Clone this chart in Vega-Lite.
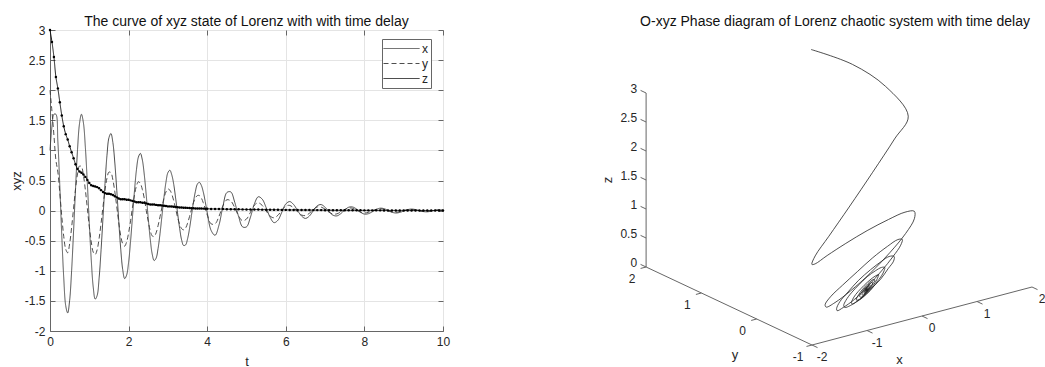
{
"$schema": "https://vega.github.io/schema/vega-lite/v6.json",
"padding": {"left": 9, "top": 14, "right": 0, "bottom": 0},
"background": "white",
"spacing": 146,
"config": {
  "font": "Liberation Sans",
  "view": {"stroke": null},
  "axis": {"labelFont": "Liberation Sans", "labelFontSize": 12, "labelColor": "#262626", "titleFont": "Liberation Sans", "titleFontSize": 13, "titleFontWeight": "normal", "titleColor": "#262626", "domainColor": "#666", "tickColor": "#666", "gridColor": "#e4e4e4"},
  "title": {"font": "Liberation Sans", "fontSize": 14, "fontWeight": "normal", "color": "#111"},
  "legend": {"labelFont": "Liberation Sans"},
  "text": {"font": "Liberation Sans"}
},
"datasets": {
  "lorenz": [
    {"t":0.00,"x":1.00,"y":2.00,"z":3.00},
    {"t":0.05,"x":1.40,"y":1.65,"z":2.80},
    {"t":0.10,"x":1.60,"y":1.25,"z":2.55},
    {"t":0.15,"x":1.60,"y":0.84,"z":2.22},
    {"t":0.20,"x":1.15,"y":0.64,"z":2.03},
    {"t":0.25,"x":0.40,"y":0.29,"z":1.80},
    {"t":0.30,"x":-0.42,"y":-0.10,"z":1.58},
    {"t":0.35,"x":-1.12,"y":-0.43,"z":1.40},
    {"t":0.40,"x":-1.58,"y":-0.64,"z":1.27},
    {"t":0.45,"x":-1.70,"y":-0.70,"z":1.18},
    {"t":0.50,"x":-1.49,"y":-0.55,"z":1.07},
    {"t":0.55,"x":-1.00,"y":-0.28,"z":0.97},
    {"t":0.60,"x":-0.34,"y":0.04,"z":0.87},
    {"t":0.65,"x":0.37,"y":0.36,"z":0.77},
    {"t":0.70,"x":1.01,"y":0.61,"z":0.69},
    {"t":0.75,"x":1.44,"y":0.74,"z":0.65},
    {"t":0.80,"x":1.60,"y":0.73,"z":0.63},
    {"t":0.85,"x":1.46,"y":0.59,"z":0.60},
    {"t":0.90,"x":1.05,"y":0.34,"z":0.56},
    {"t":0.95,"x":0.46,"y":0.04,"z":0.51},
    {"t":1.00,"x":-0.21,"y":-0.27,"z":0.46},
    {"t":1.05,"x":-0.82,"y":-0.52,"z":0.42},
    {"t":1.10,"x":-1.27,"y":-0.69,"z":0.41},
    {"t":1.15,"x":-1.47,"y":-0.73,"z":0.40},
    {"t":1.20,"x":-1.41,"y":-0.65,"z":0.39},
    {"t":1.25,"x":-1.12,"y":-0.46,"z":0.37},
    {"t":1.30,"x":-0.65,"y":-0.21,"z":0.34},
    {"t":1.35,"x":-0.10,"y":0.07,"z":0.31},
    {"t":1.40,"x":0.45,"y":0.34,"z":0.29},
    {"t":1.45,"x":0.92,"y":0.54,"z":0.28},
    {"t":1.50,"x":1.21,"y":0.64,"z":0.28},
    {"t":1.55,"x":1.28,"y":0.63,"z":0.27},
    {"t":1.60,"x":1.13,"y":0.51,"z":0.26},
    {"t":1.65,"x":0.79,"y":0.31,"z":0.24},
    {"t":1.70,"x":0.33,"y":0.06,"z":0.22},
    {"t":1.75,"x":-0.18,"y":-0.20,"z":0.20},
    {"t":1.80,"x":-0.64,"y":-0.42,"z":0.19},
    {"t":1.85,"x":-0.98,"y":-0.55,"z":0.19},
    {"t":1.90,"x":-1.13,"y":-0.59,"z":0.19},
    {"t":1.95,"x":-1.07,"y":-0.52,"z":0.18},
    {"t":2.00,"x":-0.86,"y":-0.37,"z":0.18},
    {"t":2.05,"x":-0.51,"y":-0.17,"z":0.17},
    {"t":2.10,"x":-0.09,"y":0.06,"z":0.16},
    {"t":2.15,"x":0.33,"y":0.26,"z":0.15},
    {"t":2.20,"x":0.68,"y":0.41,"z":0.14},
    {"t":2.25,"x":0.89,"y":0.48,"z":0.14},
    {"t":2.30,"x":0.95,"y":0.45,"z":0.14},
    {"t":2.35,"x":0.84,"y":0.35,"z":0.13},
    {"t":2.40,"x":0.59,"y":0.20,"z":0.13},
    {"t":2.45,"x":0.25,"y":0.00,"z":0.12},
    {"t":2.50,"x":-0.13,"y":-0.18,"z":0.11},
    {"t":2.55,"x":-0.47,"y":-0.33,"z":0.10},
    {"t":2.60,"x":-0.72,"y":-0.42,"z":0.10},
    {"t":2.65,"x":-0.83,"y":-0.43,"z":0.10},
    {"t":2.70,"x":-0.79,"y":-0.37,"z":0.095},
    {"t":2.75,"x":-0.63,"y":-0.25,"z":0.09},
    {"t":2.80,"x":-0.38,"y":-0.10,"z":0.09},
    {"t":2.85,"x":-0.08,"y":0.06,"z":0.085},
    {"t":2.90,"x":0.22,"y":0.21,"z":0.08},
    {"t":2.95,"x":0.47,"y":0.31,"z":0.075},
    {"t":3.00,"x":0.63,"y":0.36,"z":0.07},
    {"t":3.05,"x":0.67,"y":0.34,"z":0.07},
    {"t":3.10,"x":0.59,"y":0.27,"z":0.068},
    {"t":3.15,"x":0.43,"y":0.16,"z":0.065},
    {"t":3.20,"x":0.19,"y":0.02,"z":0.06},
    {"t":3.25,"x":-0.06,"y":-0.12,"z":0.055},
    {"t":3.30,"x":-0.30,"y":-0.23,"z":0.052},
    {"t":3.35,"x":-0.49,"y":-0.30,"z":0.05},
    {"t":3.40,"x":-0.58,"y":-0.32,"z":0.048},
    {"t":3.45,"x":-0.57,"y":-0.29,"z":0.046},
    {"t":3.50,"x":-0.47,"y":-0.21,"z":0.045},
    {"t":3.55,"x":-0.30,"y":-0.10,"z":0.043},
    {"t":3.60,"x":-0.08,"y":0.02,"z":0.04},
    {"t":3.65,"x":0.14,"y":0.13,"z":0.038},
    {"t":3.70,"x":0.32,"y":0.21,"z":0.036},
    {"t":3.75,"x":0.44,"y":0.25,"z":0.035},
    {"t":3.80,"x":0.47,"y":0.25,"z":0.035},
    {"t":3.85,"x":0.42,"y":0.21,"z":0.034},
    {"t":3.90,"x":0.31,"y":0.13,"z":0.033},
    {"t":3.95,"x":0.15,"y":0.03,"z":0.031},
    {"t":4.00,"x":-0.03,"y":-0.07,"z":0.03},
    {"t":4.10,"x":-0.33,"y":-0.22,"z":0.028},
    {"t":4.20,"x":-0.41,"y":-0.22,"z":0.027},
    {"t":4.30,"x":-0.24,"y":-0.095,"z":0.026},
    {"t":4.40,"x":0.07,"y":0.08,"z":0.025},
    {"t":4.50,"x":0.30,"y":0.18,"z":0.024},
    {"t":4.60,"x":0.31,"y":0.16,"z":0.023},
    {"t":4.70,"x":0.14,"y":0.05,"z":0.022},
    {"t":4.80,"x":-0.10,"y":-0.09,"z":0.021},
    {"t":4.90,"x":-0.27,"y":-0.17,"z":0.02},
    {"t":5.00,"x":-0.27,"y":-0.14,"z":0.019},
    {"t":5.10,"x":-0.11,"y":-0.03,"z":0.018},
    {"t":5.20,"x":0.11,"y":0.09,"z":0.017},
    {"t":5.30,"x":0.23,"y":0.13,"z":0.017},
    {"t":5.40,"x":0.19,"y":0.086,"z":0.016},
    {"t":5.50,"x":0.05,"y":-0.005,"z":0.015},
    {"t":5.60,"x":-0.11,"y":-0.09,"z":0.014},
    {"t":5.70,"x":-0.20,"y":-0.12,"z":0.014},
    {"t":5.80,"x":-0.16,"y":-0.077,"z":0.013},
    {"t":5.90,"x":-0.025,"y":0.007,"z":0.012},
    {"t":6.00,"x":0.11,"y":0.077,"z":0.012},
    {"t":6.10,"x":0.15,"y":0.086,"z":0.011},
    {"t":6.20,"x":0.10,"y":0.044,"z":0.011},
    {"t":6.30,"x":0.0,"y":-0.021,"z":0.010},
    {"t":6.40,"x":-0.09,"y":-0.073,"z":0.010},
    {"t":6.50,"x":-0.13,"y":-0.083,"z":0.009},
    {"t":6.60,"x":-0.09,"y":-0.044,"z":0.009},
    {"t":6.70,"x":0.0,"y":0.018,"z":0.008},
    {"t":6.80,"x":0.08,"y":0.061,"z":0.008},
    {"t":6.90,"x":0.10,"y":0.058,"z":0.008},
    {"t":7.00,"x":0.055,"y":0.022,"z":0.007},
    {"t":7.10,"x":-0.017,"y":-0.026,"z":0.007},
    {"t":7.20,"x":-0.076,"y":-0.057,"z":0.007},
    {"t":7.30,"x":-0.088,"y":-0.054,"z":0.006},
    {"t":7.40,"x":-0.05,"y":-0.022,"z":0.006},
    {"t":7.50,"x":0.01,"y":0.019,"z":0.006},
    {"t":7.60,"x":0.056,"y":0.043,"z":0.005},
    {"t":7.70,"x":0.06,"y":0.038,"z":0.005},
    {"t":7.80,"x":0.026,"y":0.008,"z":0.005},
    {"t":7.90,"x":-0.026,"y":-0.026,"z":0.005},
    {"t":8.00,"x":-0.058,"y":-0.04,"z":0.004},
    {"t":8.10,"x":-0.052,"y":-0.029,"z":0.004},
    {"t":8.20,"x":-0.02,"y":-0.004,"z":0.004},
    {"t":8.30,"x":0.018,"y":0.021,"z":0.004},
    {"t":8.40,"x":0.04,"y":0.03,"z":0.004},
    {"t":8.50,"x":0.032,"y":0.021,"z":0.003},
    {"t":8.60,"x":0.003,"y":-0.002,"z":0.003},
    {"t":8.70,"x":-0.027,"y":-0.022,"z":0.003},
    {"t":8.80,"x":-0.04,"y":-0.027,"z":0.003},
    {"t":8.90,"x":-0.03,"y":-0.018,"z":0.003},
    {"t":9.00,"x":-0.008,"y":0.0,"z":0.003},
    {"t":9.10,"x":0.016,"y":0.015,"z":0.003},
    {"t":9.20,"x":0.025,"y":0.019,"z":0.002},
    {"t":9.30,"x":0.017,"y":0.01,"z":0.002},
    {"t":9.40,"x":0.0,"y":-0.005,"z":0.002},
    {"t":9.50,"x":-0.016,"y":-0.014,"z":0.002},
    {"t":9.60,"x":-0.02,"y":-0.014,"z":0.002},
    {"t":9.70,"x":-0.01,"y":-0.005,"z":0.002},
    {"t":9.80,"x":0.005,"y":0.005,"z":0.002},
    {"t":9.90,"x":0.012,"y":0.01,"z":0.002},
    {"t":10.00,"x":0.012,"y":0.008,"z":0.002}
  ],
  "guides": [
    {"x1":-2,"y1":2,"z1":0,"x2":-2,"y2":2,"z2":3},
    {"x1":-2,"y1":-1,"z1":0,"x2":-2,"y2":2,"z2":0},
    {"x1":-2,"y1":-1,"z1":0,"x2":2,"y2":-1,"z2":0},
    {"x1":-2,"y1":2,"z1":0,"x2":-2,"y2":2.1,"z2":0},
    {"x1":-2,"y1":2,"z1":0.5,"x2":-2,"y2":2.1,"z2":0.5},
    {"x1":-2,"y1":2,"z1":1,"x2":-2,"y2":2.1,"z2":1},
    {"x1":-2,"y1":2,"z1":1.5,"x2":-2,"y2":2.1,"z2":1.5},
    {"x1":-2,"y1":2,"z1":2,"x2":-2,"y2":2.1,"z2":2},
    {"x1":-2,"y1":2,"z1":2.5,"x2":-2,"y2":2.1,"z2":2.5},
    {"x1":-2,"y1":2,"z1":3,"x2":-2,"y2":2.1,"z2":3},
    {"x1":-2,"y1":-1,"z1":0,"x2":-2.1,"y2":-1,"z2":0},
    {"x1":-2,"y1":0,"z1":0,"x2":-2.1,"y2":0,"z2":0},
    {"x1":-2,"y1":1,"z1":0,"x2":-2.1,"y2":1,"z2":0},
    {"x1":-2,"y1":2,"z1":0,"x2":-2.1,"y2":2,"z2":0},
    {"x1":-2,"y1":-1,"z1":0,"x2":-2,"y2":-1.1,"z2":0},
    {"x1":-1,"y1":-1,"z1":0,"x2":-1,"y2":-1.1,"z2":0},
    {"x1":0,"y1":-1,"z1":0,"x2":0,"y2":-1.1,"z2":0},
    {"x1":1,"y1":-1,"z1":0,"x2":1,"y2":-1.1,"z2":0},
    {"x1":2,"y1":-1,"z1":0,"x2":2,"y2":-1.1,"z2":0}
  ],
  "ticklabels": [
    {"axis":"z","x":-2,"y":2,"z":0,"text":"0"},
    {"axis":"z","x":-2,"y":2,"z":0.5,"text":"0.5"},
    {"axis":"z","x":-2,"y":2,"z":1,"text":"1"},
    {"axis":"z","x":-2,"y":2,"z":1.5,"text":"1.5"},
    {"axis":"z","x":-2,"y":2,"z":2,"text":"2"},
    {"axis":"z","x":-2,"y":2,"z":2.5,"text":"2.5"},
    {"axis":"z","x":-2,"y":2,"z":3,"text":"3"},
    {"axis":"y","x":-2,"y":2,"z":0,"text":"2"},
    {"axis":"y","x":-2,"y":1,"z":0,"text":"1"},
    {"axis":"y","x":-2,"y":0,"z":0,"text":"0"},
    {"axis":"y","x":-2,"y":-1,"z":0,"text":"-1"},
    {"axis":"x","x":-2,"y":-1,"z":0,"text":"-2"},
    {"axis":"x","x":-1,"y":-1,"z":0,"text":"-1"},
    {"axis":"x","x":0,"y":-1,"z":0,"text":"0"},
    {"axis":"x","x":1,"y":-1,"z":0,"text":"1"},
    {"axis":"x","x":2,"y":-1,"z":0,"text":"2"}
  ],
  "axistitles": [
    {"axis":"x","x":-0.5,"y":-1,"z":0,"text":"x"},
    {"axis":"y","x":-2,"y":0.5,"z":0,"text":"y"},
    {"axis":"z","x":-2,"y":2,"z":1.5,"text":"z"}
  ]
},
"hconcat": [
  {
    "width": 393,
    "height": 301,
    "view": {"stroke": "#666"},
    "title": {"text": "The curve of xyz state of Lorenz  with with time delay", "offset": -5},
    "data": {"name": "lorenz"},
    "transform": [{"fold": ["x", "y", "z"], "as": ["series", "value"]}],
    "layer": [
      {
        "mark": {"type": "line", "interpolate": "catmull-rom"},
        "encoding": {
          "x": {"field": "t", "type": "quantitative", "scale": {"domain": [0, 10], "nice": false},
                "axis": {"values": [0, 2, 4, 6, 8, 10], "format": "~r", "title": "t", "grid": true, "tickSize": -5, "labelPadding": 10, "titlePadding": 8, "labelFlush": false}},
          "y": {"field": "value", "type": "quantitative", "scale": {"domain": [-2, 3], "nice": false, "zero": false},
                "axis": {"values": [-2, -1.5, -1, -0.5, 0, 0.5, 1, 1.5, 2, 2.5, 3], "format": "~r", "labelExpr": "replace(datum.label, '\u2212', '-')", "title": "xyz", "grid": true, "tickSize": -5, "labelPadding": 10, "titlePadding": 1, "labelFlush": false}},
          "color": {"field": "series", "type": "nominal", "scale": {"domain": ["x", "y", "z"], "range": ["#3a3a3a", "#3a3a3a", "#000000"]},
                    "legend": {"title": null, "orient": "none", "legendX": 332, "legendY": 9, "symbolType": "M-3,0H3", "symbolSize": 144, "symbolOffset": 10, "labelOffset": 14, "labelFontSize": 12, "labelColor": "#262626", "strokeColor": "#666", "fillColor": "white", "padding": 3, "rowPadding": 2}},
          "strokeDash": {"field": "series", "type": "nominal", "scale": {"domain": ["x", "y", "z"], "range": [[1, 0], [5, 3], [1, 0]]},
                    "legend": {"title": null, "orient": "none", "legendX": 332, "legendY": 9, "symbolType": "M-3,0H3", "symbolSize": 144, "symbolOffset": 10, "labelOffset": 14, "labelFontSize": 12, "labelColor": "#262626", "strokeColor": "#666", "fillColor": "white", "padding": 3, "rowPadding": 2}},
          "strokeWidth": {"field": "series", "type": "nominal", "scale": {"domain": ["x", "y", "z"], "range": [0.9, 0.9, 2.2]},
                    "legend": {"title": null, "orient": "none", "legendX": 332, "legendY": 9, "symbolType": "M-3,0H3", "symbolSize": 144, "symbolOffset": 10, "labelOffset": 14, "labelFontSize": 12, "labelColor": "#262626", "strokeColor": "#666", "fillColor": "white", "padding": 3, "rowPadding": 2}}
        }
      },
      {
        "transform": [{"filter": "datum.series === 'z'"}],
        "mark": {"type": "point", "filled": true, "size": 6, "color": "#000", "opacity": 1},
        "encoding": {
          "x": {"field": "t", "type": "quantitative", "axis": {"orient": "top", "values": [0, 2, 4, 6, 8, 10], "labels": false, "title": null, "grid": false, "domain": false, "tickSize": -5}},
          "y": {"field": "value", "type": "quantitative", "axis": {"orient": "right", "values": [-2, -1.5, -1, -0.5, 0, 0.5, 1, 1.5, 2, 2.5, 3], "labels": false, "title": null, "grid": false, "domain": false, "tickSize": -5}}
        }
      }
    ],
    "resolve": {"axis": {"x": "independent", "y": "independent"}}
  },
  {
    "width": 448,
    "height": 335,
    "view": {"stroke": null},
    "title": {"text": "O-xyz Phase diagram of Lorenz chaotic system with time delay", "offset": 1, "dx": 14},
    "layer": [
      {
        "data": {"name": "guides"},
        "transform": [
          {"calculate": "55*(datum.x1+2)-55.3*(datum.y1+1)", "as": "u1"},
          {"calculate": "14.5*(datum.x1+2)+26*(datum.y1+1)+58*datum.z1", "as": "v1"},
          {"calculate": "55*(datum.x2+2)-55.3*(datum.y2+1)", "as": "u2"},
          {"calculate": "14.5*(datum.x2+2)+26*(datum.y2+1)+58*datum.z2", "as": "v2"}
        ],
        "mark": {"type": "rule", "color": "#666", "strokeWidth": 1},
        "encoding": {
          "x": {"field": "u1", "type": "quantitative", "scale": {"domain": [-215, 233], "nice": false, "zero": false}, "axis": null},
          "y": {"field": "v1", "type": "quantitative", "scale": {"domain": [-20, 315], "nice": false, "zero": false}, "axis": null},
          "x2": {"field": "u2"},
          "y2": {"field": "v2"}
        }
      },
      {
        "data": {"name": "ticklabels"},
        "transform": [
          {"filter": "datum.axis === 'z'"},
          {"calculate": "55*(datum.x+2)-55.3*(datum.y+1)", "as": "u"},
          {"calculate": "14.5*(datum.x+2)+26*(datum.y+1)+58*datum.z", "as": "v"}
        ],
        "mark": {"type": "text", "align": "right", "baseline": "middle", "dx": -9, "dy": -4, "fontSize": 12, "color": "#262626"},
        "encoding": {
          "x": {"field": "u", "type": "quantitative", "axis": null},
          "y": {"field": "v", "type": "quantitative", "axis": null},
          "text": {"field": "text", "type": "nominal"}
        }
      },
      {
        "data": {"name": "ticklabels"},
        "transform": [
          {"filter": "datum.axis === 'y'"},
          {"calculate": "55*(datum.x+2)-55.3*(datum.y+1)", "as": "u"},
          {"calculate": "14.5*(datum.x+2)+26*(datum.y+1)+58*datum.z", "as": "v"}
        ],
        "mark": {"type": "text", "align": "center", "baseline": "middle", "dx": -14, "dy": 12, "fontSize": 12, "color": "#262626"},
        "encoding": {
          "x": {"field": "u", "type": "quantitative", "axis": null},
          "y": {"field": "v", "type": "quantitative", "axis": null},
          "text": {"field": "text", "type": "nominal"}
        }
      },
      {
        "data": {"name": "ticklabels"},
        "transform": [
          {"filter": "datum.axis === 'x'"},
          {"calculate": "55*(datum.x+2)-55.3*(datum.y+1)", "as": "u"},
          {"calculate": "14.5*(datum.x+2)+26*(datum.y+1)+58*datum.z", "as": "v"}
        ],
        "mark": {"type": "text", "align": "center", "baseline": "middle", "dx": 10, "dy": 12, "fontSize": 12, "color": "#262626"},
        "encoding": {
          "x": {"field": "u", "type": "quantitative", "axis": null},
          "y": {"field": "v", "type": "quantitative", "axis": null},
          "text": {"field": "text", "type": "nominal"}
        }
      },
      {
        "data": {"name": "axistitles"},
        "transform": [
          {"filter": "datum.axis === 'x'"},
          {"calculate": "55*(datum.x+2)-55.3*(datum.y+1)", "as": "u"},
          {"calculate": "14.5*(datum.x+2)+26*(datum.y+1)+58*datum.z", "as": "v"}
        ],
        "mark": {"type": "text", "align": "center", "baseline": "middle", "dx": 5, "dy": 37, "fontSize": 13, "color": "#262626"},
        "encoding": {
          "x": {"field": "u", "type": "quantitative", "axis": null},
          "y": {"field": "v", "type": "quantitative", "axis": null},
          "text": {"field": "text", "type": "nominal"}
        }
      },
      {
        "data": {"name": "axistitles"},
        "transform": [
          {"filter": "datum.axis === 'y'"},
          {"calculate": "55*(datum.x+2)-55.3*(datum.y+1)", "as": "u"},
          {"calculate": "14.5*(datum.x+2)+26*(datum.y+1)+58*datum.z", "as": "v"}
        ],
        "mark": {"type": "text", "align": "center", "baseline": "middle", "dx": 6, "dy": 49, "fontSize": 13, "color": "#262626"},
        "encoding": {
          "x": {"field": "u", "type": "quantitative", "axis": null},
          "y": {"field": "v", "type": "quantitative", "axis": null},
          "text": {"field": "text", "type": "nominal"}
        }
      },
      {
        "data": {"name": "axistitles"},
        "transform": [
          {"filter": "datum.axis === 'z'"},
          {"calculate": "55*(datum.x+2)-55.3*(datum.y+1)", "as": "u"},
          {"calculate": "14.5*(datum.x+2)+26*(datum.y+1)+58*datum.z", "as": "v"}
        ],
        "mark": {"type": "text", "align": "center", "baseline": "middle", "dx": 0, "dy": -38, "angle": 270, "fontSize": 13, "color": "#262626"},
        "encoding": {
          "x": {"field": "u", "type": "quantitative", "axis": null},
          "y": {"field": "v", "type": "quantitative", "axis": null},
          "text": {"field": "text", "type": "nominal"}
        }
      },
      {
        "data": {"name": "lorenz"},
        "transform": [
          {"calculate": "55*(datum.x+2)-55.3*(datum.y+1)", "as": "u"},
          {"calculate": "14.5*(datum.x+2)+26*(datum.y+1)+58*datum.z", "as": "v"}
        ],
        "mark": {"type": "line", "color": "#222", "strokeWidth": 0.8, "interpolate": "catmull-rom"},
        "encoding": {
          "x": {"field": "u", "type": "quantitative", "axis": null},
          "y": {"field": "v", "type": "quantitative", "axis": null},
          "order": {"field": "t", "type": "quantitative"}
        }
      }
    ]
  }
]
}
